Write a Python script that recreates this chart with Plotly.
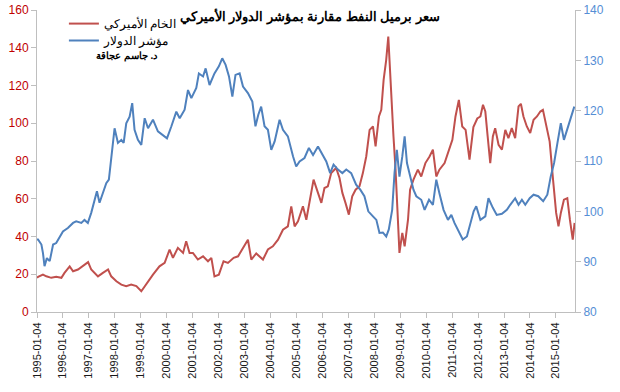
import pandas as pd
import plotly.graph_objects as go

title_text = "سعر برميل النفط مقارنة بمؤشر الدولار الأميركي"
oil_name = "الخام الأميركي"
usd_name = "مؤشر الدولار"
author = "د. جاسم عجاقة"

# time as fractional years counted from the 1995-01-04 tick
usd_years = [1995.00,1995.04,1995.17,1995.23,1995.29,1995.38,1995.49,1995.62,1995.74,1995.87,
             1996.00,1996.19,1996.39,1996.51,1996.71,1996.83,1996.96,1997.09,1997.22,1997.31,
             1997.41,1997.54,1997.67,1997.77,1997.86,1997.99,1998.12,1998.25,1998.34,1998.44,
             1998.57,1998.67,1998.76,1998.89,1999.02,1999.15,1999.28,1999.47,1999.66,1999.86,
             2000.01,2000.18,2000.37,2000.50,2000.69,2000.82,2000.95,2001.14,2001.24,2001.40,
             2001.50,2001.65,2001.84,2002.01,2002.14,2002.27,2002.40,2002.53,2002.65,2002.81,
             2002.94,2003.13,2003.30,2003.42,2003.53,2003.64,2003.77,2003.90,2004.03,2004.16,
             2004.35,2004.48,2004.67,2004.87,2004.99,2005.12,2005.31,2005.48,2005.64,2005.83,
             2006.02,2006.15,2006.30,2006.43,2006.60,2006.77,2006.92,2007.11,2007.30,2007.46,
             2007.62,2007.77,2007.95,2008.08,2008.20,2008.33,2008.46,2008.56,2008.69,2008.78,
             2008.87,2008.97,2009.08,2009.17,2009.26,2009.38,2009.51,2009.62,2009.81,2009.94,
             2010.11,2010.26,2010.39,2010.51,2010.67,2010.84,2010.97,2011.09,2011.26,2011.41,
             2011.57,2011.70,2011.83,2011.93,2012.09,2012.28,2012.40,2012.57,2012.72,2012.92,
             2013.11,2013.24,2013.43,2013.56,2013.69,2013.82,2013.99,2014.14,2014.32,2014.51,
             2014.67,2014.80,2014.93,2015.06,2015.19,2015.31,2015.44,2015.58,2015.71]
usd_values = [94.4,94.4,93.4,91.7,89.1,90.7,90.1,93.4,93.7,95.0,
              96.0,96.7,97.7,98.0,97.7,98.3,97.7,99.7,102.3,104.0,
              101.7,103.6,105.6,106.3,110.2,116.5,113.6,114.2,113.6,117.5,
              118.8,121.5,116.2,114.2,113.2,118.5,116.5,118.2,115.9,115.2,
              114.5,116.9,119.8,118.5,120.2,124.1,122.5,124.5,127.4,126.8,
              128.4,125.1,127.4,128.8,130.4,129.1,126.8,122.8,127.1,127.4,
              124.8,123.5,121.8,116.9,119.2,120.8,116.9,116.2,112.2,113.9,
              118.2,116.2,114.9,110.9,108.9,109.9,110.6,112.6,111.2,112.9,
              111.2,109.9,107.6,109.3,108.3,107.6,108.3,107.6,105.3,104.3,
              103.0,100.0,99.0,98.3,95.7,95.8,95.0,96.4,100.3,107.6,
              112.2,106.9,110.9,114.9,109.6,106.9,104.3,103.0,102.3,100.3,
              102.3,101.3,106.3,103.6,100.3,98.3,99.3,97.7,96.0,94.4,
              95.0,97.5,100.0,101.0,98.3,99.0,102.6,100.7,99.3,99.5,
              100.3,101.3,102.6,101.3,102.3,101.3,102.6,103.3,103.0,102.0,
              103.3,106.9,109.6,113.6,117.5,114.2,116.2,118.8,120.8]

oil_years = [1995.00,1995.04,1995.23,1995.36,1995.55,1995.74,1995.94,1996.06,1996.26,1996.39,
             1996.58,1996.77,1996.97,1997.09,1997.22,1997.35,1997.54,1997.74,1997.86,1998.06,
             1998.25,1998.44,1998.63,1998.83,1999.02,1999.21,1999.47,1999.72,1999.92,2000.11,
             2000.24,2000.43,2000.63,2000.75,2000.88,2001.01,2001.20,2001.40,2001.59,2001.72,
             2001.84,2002.01,2002.19,2002.36,2002.58,2002.75,2002.96,2003.13,2003.26,2003.45,
             2003.71,2003.90,2004.09,2004.29,2004.48,2004.67,2004.80,2004.93,2005.06,2005.25,
             2005.38,2005.50,2005.66,2005.83,2005.96,2006.08,2006.21,2006.34,2006.53,2006.66,
             2006.77,2006.89,2007.02,2007.15,2007.28,2007.43,2007.56,2007.69,2007.82,2007.95,
             2008.05,2008.18,2008.27,2008.36,2008.46,2008.54,2008.61,2008.69,2008.74,2008.82,
             2008.91,2008.97,2009.08,2009.17,2009.30,2009.38,2009.51,2009.68,2009.81,2009.97,
             2010.13,2010.26,2010.39,2010.51,2010.71,2010.88,2011.01,2011.13,2011.26,2011.39,
             2011.52,2011.67,2011.82,2011.97,2012.09,2012.19,2012.28,2012.37,2012.47,2012.57,
             2012.66,2012.79,2012.92,2013.05,2013.17,2013.30,2013.43,2013.56,2013.65,2013.75,
             2013.88,2014.01,2014.14,2014.27,2014.40,2014.50,2014.63,2014.76,2014.89,2015.01,
             2015.10,2015.19,2015.31,2015.44,2015.54,2015.65,2015.72]
oil_values = [18.1,18.6,19.8,18.9,18.1,18.6,18.1,20.7,24.2,21.6,
              22.5,24.2,26.4,22.5,20.7,18.9,20.7,22.5,18.9,16.3,
              14.5,13.7,14.5,13.7,11.0,15.0,19.8,24.2,26.0,33.1,
              28.7,34.0,31.3,37.5,31.3,31.3,27.8,29.5,26.9,28.7,
              18.9,19.8,26.9,26.0,28.7,29.5,34.0,38.3,27.8,31.0,
              27.8,33.1,34.8,38.3,43.6,45.4,56.0,45.4,48.0,56.0,
              48.9,57.8,70.1,63.1,57.8,65.7,66.6,73.6,76.3,71.0,
              63.1,57.8,51.6,61.3,64.8,66.6,73.6,82.4,96.5,98.3,
              87.7,103.6,107.1,123.0,133.6,145.9,124.7,108.9,93.0,75.4,
              48.9,31.3,41.9,34.8,48.9,64.8,70.1,75.4,71.8,78.9,
              82.4,86.0,71.8,75.4,78.9,86.0,91.2,103.6,112.4,98.3,
              96.5,80.7,98.0,102.5,103.6,109.8,106.2,93.0,78.9,93.0,
              97.4,88.6,86.0,96.5,92.1,97.4,92.1,108.9,110.3,103.6,
              98.3,94.8,101.8,103.6,106.2,107.1,98.3,90.3,70.1,52.5,
              45.4,52.5,59.5,60.3,48.9,38.3,47.2]

tick_labels = [f"{y}-01-04" for y in range(1995, 2016)]

origin = pd.Timestamp("1995-01-04")
def to_dates(years):
    return [origin + pd.Timedelta(days=(y - 1995.0) * 365.25) for y in years]

fig = go.Figure()
fig.add_trace(go.Scatter(x=to_dates(oil_years), y=oil_values, name=oil_name, mode="lines",
                         line=dict(color="#C0504D", width=2), yaxis="y", legend="legend"))
fig.add_trace(go.Scatter(x=to_dates(usd_years), y=usd_values, name=usd_name, mode="lines",
                         line=dict(color="#4F81BD", width=2), yaxis="y2", legend="legend2"))

leg_common = dict(xanchor="left", yanchor="middle", bgcolor="rgba(255,255,255,0)",
                  font=dict(size=11.5, color="#000000", family="Liberation Sans, Arial, sans-serif"),
                  itemwidth=30, borderwidth=0)

fig.update_layout(
    width=620, height=392,
    margin=dict(l=37, r=45, t=10, b=80, autoexpand=False),
    paper_bgcolor="white", plot_bgcolor="white",
    font=dict(family="Liberation Sans, Arial, sans-serif", size=11, color="#000000"),
    xaxis=dict(type="date", range=["1995-01-04", "2015-09-30"], automargin=False,
               tickvals=tick_labels, tickformat="%Y-%m-%d", tickangle=-90,
               showgrid=False, showline=True, linecolor="#BFBFBF", linewidth=1,
               ticks="outside", ticklen=5, tickcolor="#BFBFBF",
               tickfont=dict(size=11, color="#1a1a1a"), zeroline=False),
    yaxis=dict(range=[0, 160], dtick=20, showgrid=False, showline=True, automargin=False,
               linecolor="#BFBFBF", linewidth=1, ticks="outside", ticklen=5,
               tickcolor="#BFBFBF", zeroline=False,
               tickfont=dict(size=12, color="#C00000")),
    yaxis2=dict(range=[80, 140], dtick=10, overlaying="y", side="right", automargin=False,
                showgrid=False, showline=True, linecolor="#BFBFBF", linewidth=1,
                ticks="outside", ticklen=5, tickcolor="#BFBFBF", zeroline=False,
                tickfont=dict(size=12, color="#558ED5")),
    legend=dict(x=0.05, y=0.955, **leg_common),
    legend2=dict(x=0.05, y=0.899, **leg_common),
    showlegend=True,
)
fig.add_annotation(text=f"<b>{title_text}</b>", xref="paper", yref="paper",
                   x=0.508, y=0.977, xanchor="center", yanchor="middle", showarrow=False,
                   font=dict(size=12.5, color="#000000"))
fig.add_annotation(text=f"<b>{author}</b>", xref="paper", yref="paper",
                   x=0.229, y=0.848, xanchor="right", yanchor="middle", showarrow=False,
                   font=dict(size=10, color="#000000"))

fig.write_html("out.html", config={"displayModeBar": False},
               post_script="document.body.style.margin='0';")
